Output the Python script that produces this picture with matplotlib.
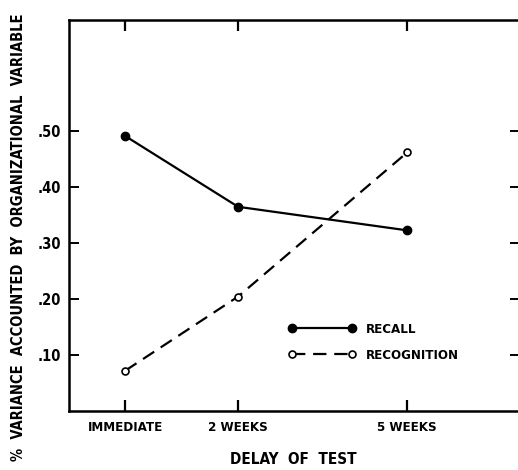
import matplotlib
matplotlib.use("Agg")
import matplotlib.pyplot as plt

plt.rcParams['font.family'] = ['DejaVu Sans']
plt.rcParams['font.stretch'] = 'condensed'
plt.rcParams['font.weight'] = 'bold'

# Data
delay_weeks = [0, 2, 5]
delay_labels = ["IMMEDIATE", "2 WEEKS", "5 WEEKS"]
recall = [0.49, 0.364, 0.322]
recognition = [0.072, 0.204, 0.461]
y_ticks = [0.10, 0.20, 0.30, 0.40, 0.50]
y_tick_labels = [".10", ".20", ".30", ".40", ".50"]

fig = plt.figure(figsize=(5.18, 4.70), dpi=100)
ax = fig.add_axes([69/518, 1 - 411/470, (520-69)/518, (411-20)/470])

ax.plot(delay_weeks, recall, color='black', lw=1.6, marker='o', ms=6,
        mfc='black', mec='black', label='RECALL')
ax.plot(delay_weeks, recognition, color='black', lw=1.6, dashes=(6, 3.5),
        marker='o', ms=5, mfc='white', mec='black', mew=1.2, label='RECOGNITION')

ax.set_xlim(-1, 7)
ax.set_ylim(0.0, 0.697)
ax.set_xticks(delay_weeks)
ax.set_xticklabels(delay_labels, fontsize=9.5, fontweight='bold')
ax.set_yticks(y_ticks)
ax.set_yticklabels(y_tick_labels, fontsize=10.5, fontweight='bold')

ax.tick_params(axis='x', direction='in', top=True, bottom=True, length=8, width=1.6, pad=7)
ax.tick_params(axis='y', direction='in', left=True, right=True, length=7, width=1.4, pad=6)

for s in ax.spines.values():
    s.set_linewidth(1.8)

ax.set_xlabel("DELAY  OF  TEST", fontsize=11, fontweight='bold')
ax.set_ylabel("%  VARIANCE  ACCOUNTED  BY  ORGANIZATIONAL  VARIABLE",
              fontsize=10.5, fontweight='bold')
ax_w, ax_h = 520 - 69, 411 - 20
ax.xaxis.set_label_coords((293 - 69) / ax_w, -(460 - 411) / ax_h)
ax.xaxis.label.set_va('center')
ax.yaxis.set_label_coords(-(69 - 19) / ax_w, (411 - 237) / ax_h)
ax.yaxis.label.set_va('center')

leg = ax.legend(loc='center left', bbox_to_anchor=(0.46, 0.176), frameon=False,
                handlelength=5.1, numpoints=2, handletextpad=0.8,
                labelspacing=1.0, prop={'weight': 'bold', 'size': 9.5})

fig.savefig("out.png", dpi=100)
